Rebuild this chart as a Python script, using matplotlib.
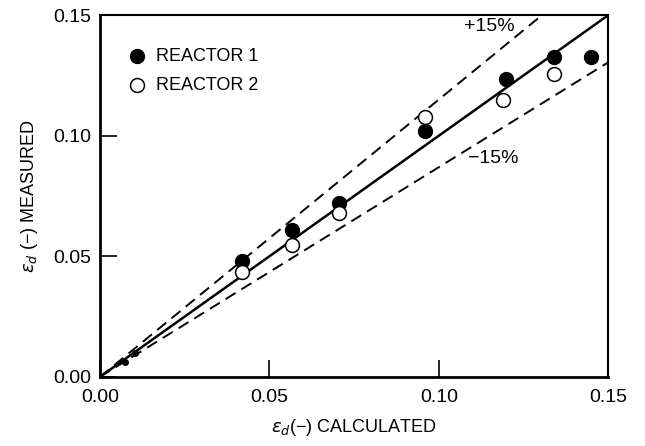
import matplotlib.pyplot as plt
import numpy as np

plt.rcParams['font.family'] = ['Liberation Sans', 'DejaVu Sans']

# reactor 1 (filled), reactor 2 (open)
r1_calc = [0.0074, 0.0104, 0.042, 0.0568, 0.0704, 0.0959, 0.1198, 0.134, 0.145]
r1_meas = [0.0062, 0.0099, 0.0480, 0.0610, 0.0719, 0.1020, 0.1236, 0.1325, 0.1325]
r1_size = [4, 4, 10, 10, 10, 10, 10, 10, 10]

r2_calc = [0.042, 0.0568, 0.0704, 0.0959, 0.119, 0.134]
r2_meas = [0.0434, 0.0548, 0.0678, 0.1079, 0.1149, 0.1255]

band = 0.15  # +/- 15 %
ticks = [0.00, 0.05, 0.10, 0.15]

fig = plt.figure(figsize=(6.45, 4.46), dpi=100)
ax = fig.add_axes([0.155, 0.155, 0.788, 0.811])

xx = np.array([0.0, 0.15])
ax.plot(xx, xx, color='black', lw=1.8)
ax.plot(xx, xx * (1 + band), color='black', lw=1.4, ls=(0, (6, 3.5)))
ax.plot(xx, xx / (1 + band), color='black', lw=1.4, ls=(0, (6, 3.5)))

for x, y, s in zip(r1_calc, r1_meas, r1_size):
    ax.plot(x, y, 'o', color='black', ms=s)
ax.plot(r2_calc, r2_meas, 'o', mfc='white', mec='black', mew=1.1, ms=10)

# legend drawn by hand like the original
ax.plot(0.011, 0.133, 'o', color='black', ms=10)
ax.plot(0.011, 0.121, 'o', mfc='white', mec='black', mew=1.1, ms=10)
ax.text(0.0165, 0.133, 'REACTOR 1', fontsize=13, va='center')
ax.text(0.0165, 0.121, 'REACTOR 2', fontsize=13, va='center')

ax.text(0.1074, 0.1455, '+15%', fontsize=14, va='center')
ax.text(0.1086, 0.0905, '\u221215%', fontsize=14, va='center')

ax.set_xlim(0, 0.15)
ax.set_ylim(0, 0.15)
ax.set_xticks(ticks)
ax.set_yticks(ticks)
ax.set_xticklabels(['%.2f' % t for t in ticks], fontsize=14)
ax.set_yticklabels(['%.2f' % t for t in ticks], fontsize=14)
ax.tick_params(direction='in', length=12, width=1.2)
ax.tick_params(axis='x', pad=9)
ax.tick_params(axis='y', pad=6)
for sp in ['left', 'bottom']:
    ax.spines[sp].set_linewidth(2)
for sp in ['top', 'right']:
    ax.spines[sp].set_linewidth(1.5)

ax.set_xlabel('$\\varepsilon_d$(\u2212) CALCULATED', fontsize=13, labelpad=8)
ax.set_ylabel('$\\varepsilon_d$ (\u2212) MEASURED', fontsize=13, labelpad=10)

fig.savefig('out.png', dpi=100)
